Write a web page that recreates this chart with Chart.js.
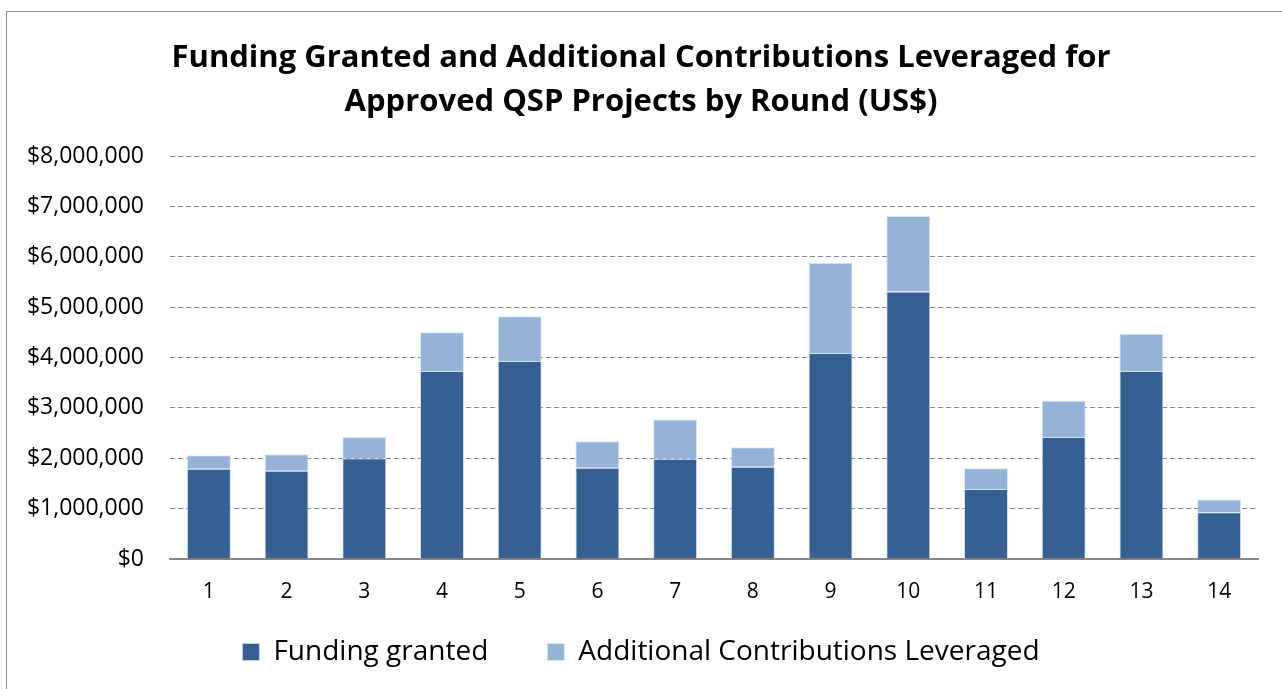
<!DOCTYPE html>
<html>
<head>
<meta charset="utf-8">
<script src="https://cdn.jsdelivr.net/npm/chart.js@4"></script>
<style>
	body { margin: 0; background: #fff; }
	#wrap { position: relative; width: 1282px; height: 689px; overflow: hidden; }
	#frame { position: absolute; left: 6px; top: 11px; width: 1290px; height: 700px; border: 1px solid #8c8c8c; pointer-events: none; }
</style>
</head>
<body>
<div id="wrap">
	<canvas id="myChart" width="1282" height="689"></canvas>
	<div id="frame"></div>
</div>
<script>
// 데이터
const rounds = ['1', '2', '3', '4', '5', '6', '7', '8', '9', '10', '11', '12', '13', '14'];
const fundingGranted = [1790000, 1750000, 2000000, 3730000, 3930000, 1810000, 1990000, 1830000, 4090000, 5310000, 1390000, 2420000, 3730000, 930000];
const additionalContributions = [270000, 330000, 420000, 770000, 890000, 530000, 780000, 390000, 1790000, 1500000, 410000, 720000, 740000, 250000];
const yTicks = [0, 1000000, 2000000, 3000000, 4000000, 5000000, 6000000, 7000000, 8000000];

const FONT = '"Open Sans", sans-serif';

window.addEventListener("load", function() {
	let data = {
		labels: rounds,
		datasets: [
			{
				label: 'Funding granted',
				backgroundColor: '#376092',
				borderColor: 'rgba(200, 215, 235, 0.8)',
				borderWidth: 1,
				data: fundingGranted
			},
			{
				label: 'Additional Contributions Leveraged',
				backgroundColor: '#95b3d7',
				borderColor: 'rgba(215, 228, 242, 0.9)',
				borderWidth: 1,
				data: additionalContributions
			}
		]
	};

	let options = {
		responsive: false,
		animation: false,
		layout: { padding: { left: 24, right: 24, top: 0, bottom: 13 } },
		datasets: { bar: { categoryPercentage: 1, barPercentage: 0.566 } },
		plugins: {
			title: {
				display: true,
				text: ['Funding Granted and Additional Contributions Leveraged for', 'Approved QSP Projects by Round (US$)'],
				color: '#000',
				font: { family: FONT, size: 31, weight: 'bold', lineHeight: 1.42 },
				padding: { top: 36, bottom: 32 }
			},
			legend: {
				position: 'bottom',
				labels: {
					color: '#000',
					font: { family: FONT, size: 28 },
					boxWidth: 17,
					boxHeight: 17,
					padding: 30,
					// 항목 사이 간격을 넓히기 위해 첫 항목 뒤에 공백 추가
					generateLabels: function(chart) {
						let items = Chart.defaults.plugins.legend.labels.generateLabels(chart);
						items[0].text = items[0].text + '\u00a0\u00a0\u00a0\u00a0';
						return items;
					}
				}
			},
			tooltip: { enabled: false }
		},
		scales: {
			x: {
				stacked: true,
				afterFit: function(scale) {
					scale.height = 49;
				},
				grid: { display: false },
				border: { display: true, color: '#868686', width: 2 },
				ticks: { color: '#000', font: { family: FONT, size: 21 }, padding: 12 }
			},
			y: {
				stacked: true,
				min: 0,
				max: 8000000,
				afterBuildTicks: function(scale) {
					scale.ticks = yTicks.map(v => ({ value: v }));
				},
				afterFit: function(scale) {
					scale.width = 146;
				},
				grid: { color: '#868686', lineWidth: 1, drawTicks: false },
				border: { display: false, dash: [5, 3] },
				ticks: {
					color: '#000',
					font: { family: FONT, size: 23 },
					padding: 26,
					callback: function(v) { return '$' + v.toLocaleString('en-US'); }
				}
			}
		}
	};

	const ctx = document.getElementById('myChart').getContext('2d');

	let myChart = new Chart(ctx, {
		type: 'bar',
		data: data,
		options: options
	});
})
</script>
</body>
</html>
